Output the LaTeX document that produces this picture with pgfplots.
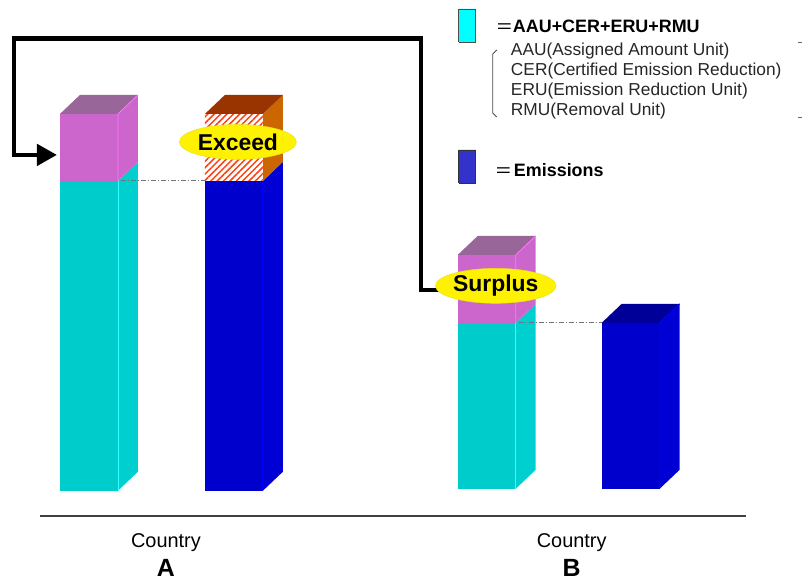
\documentclass[border=0pt]{standalone}
\usepackage{fontspec}
\setmainfont{Liberation Sans}
\usepackage{pgfplots}
\pgfplotsset{compat=1.18}
\usetikzlibrary{patterns.meta,arrows.meta,shapes.geometric}
\definecolor{cyf}{HTML}{00CCCC}
\definecolor{cys}{HTML}{00CFCF}
\definecolor{cyl}{HTML}{33FFFF}
\definecolor{pkf}{HTML}{CC66CC}
\definecolor{pks}{HTML}{CC66CC}
\definecolor{pkt}{HTML}{996699}
\definecolor{pkl}{HTML}{FF77FF}
\definecolor{blf}{HTML}{0000CC}
\definecolor{bls}{HTML}{0000D4}
\definecolor{blt}{HTML}{000099}
\definecolor{bll}{HTML}{0000FF}
\definecolor{ors}{HTML}{CC6600}
\definecolor{brt}{HTML}{993300}
\definecolor{hatch}{HTML}{FF4010}
\definecolor{legc}{HTML}{00FFFF}
\definecolor{legb}{HTML}{3333CC}
\begin{document}
\begin{tikzpicture}
\begin{axis}[x=1bp,y=1bp,xmin=0,xmax=802,ymin=0,ymax=583,hide axis,clip=false]
\path (axis cs:0,0) rectangle (axis cs:802,583);
% ---------- Country A : allowance (cyan) + acquired units (pink)
\addplot[fill=cys,draw=none] coordinates {(118,92)(138,111)(138,421)(118,402)};
\addplot[fill=cyf,draw=none] coordinates {(60,92)(118,92)(118,402)(60,402)};
\addplot[fill=pks,draw=none] coordinates {(118,402)(138,421)(138,488)(118,469)};
\addplot[fill=pkf,draw=none] coordinates {(60,402)(118,402)(118,469)(60,469)};
\addplot[fill=pkt,draw=none] coordinates {(60,469)(118,469)(138,488)(80,488)};
\addplot[cyl,line width=0.8bp] coordinates {(118,92)(118,402)};
\addplot[pkl,line width=0.8bp] coordinates {(118,402)(118,469)(138,488)};
% ---------- Country A : emissions (blue) with excess (hatched)
\addplot[fill=bls,draw=none] coordinates {(263,92)(283,111)(283,421)(263,402)};
\addplot[fill=blf,draw=none] coordinates {(205,92)(263,92)(263,402)(205,402)};
\addplot[fill=ors,draw=none] coordinates {(263,402)(283,421)(283,488)(263,469)};
\addplot[fill=white,draw=none,postaction={pattern color=hatch,pattern={Lines[angle=45,distance=4.5bp,line width=1.5bp]}}] coordinates {(205,402)(263,402)(263,469)(205,469)};
\addplot[fill=brt,draw=none] coordinates {(205,469)(263,469)(283,488)(225,488)};
\addplot[bll,line width=0.8bp] coordinates {(263,92)(263,402)};
% ---------- Country B : allowance (cyan) + surplus (pink)
\addplot[fill=cys,draw=none] coordinates {(516,94)(536,113)(536,279)(516,260)};
\addplot[fill=cyf,draw=none] coordinates {(458,94)(516,94)(516,260)(458,260)};
\addplot[fill=pks,draw=none] coordinates {(516,260)(536,279)(536,347)(516,328)};
\addplot[fill=pkf,draw=none] coordinates {(458,260)(516,260)(516,328)(458,328)};
\addplot[fill=pkt,draw=none] coordinates {(458,328)(516,328)(536,347)(478,347)};
\addplot[cyl,line width=0.8bp] coordinates {(516,94)(516,260)};
\addplot[pkl,line width=0.8bp] coordinates {(516,260)(516,328)(536,347)};
% ---------- Country B : emissions (blue)
\addplot[fill=bls,draw=none] coordinates {(660,94)(680,113)(680,279)(660,260)};
\addplot[fill=blf,draw=none] coordinates {(602,94)(660,94)(660,260)(602,260)};
\addplot[fill=blt,draw=none] coordinates {(602,260)(660,260)(680,279)(622,279)};
\addplot[bll,line width=0.8bp] coordinates {(660,94)(660,260)(680,279)};
% ---------- reference lines
\addplot[black!55,line width=0.9bp,dash pattern=on 5bp off 2bp on 1bp off 2bp] coordinates {(121,402)(205,402)};
\addplot[black!55,line width=0.9bp,dash pattern=on 5bp off 2bp on 1bp off 2bp] coordinates {(519,260)(602,260)};
% ---------- baseline
\addplot[black!75,line width=1.6bp] coordinates {(40,67)(746,67)};
% ---------- transfer arrow
\addplot[black,line width=4.5bp,-{Triangle[length=20bp,width=21bp]}] coordinates {(450,293)(421,293)(421,544.5)(14,544.5)(14,428)(57,428)};
% ---------- callouts
\node[ellipse,fill=yellow,draw=yellow!90!black,line width=0.4bp,minimum width=117bp,minimum height=35bp,inner sep=0pt,font=\fontsize{23}{25}\selectfont\bfseries] at (axis cs:238,441) {Exceed};
\node[ellipse,fill=yellow,draw=yellow!90!black,line width=0.4bp,minimum width=106bp,minimum height=35bp,inner sep=0pt,font=\fontsize{23}{25}\selectfont\bfseries] at (axis cs:496,297) {Surplus};
% ---------- legend
\addplot[fill=legc,draw=black!70,line width=0.8bp] coordinates {(459,541)(476,541)(476,574)(459,574)(459,541)};
\addplot[fill=legb,draw=black!80,line width=0.8bp] coordinates {(459,400)(476,400)(476,433)(459,433)(459,400)};
\node[anchor=base west,inner sep=0pt,font=\fontsize{18}{20}\selectfont] at (axis cs:497,550) {\scalebox{1.45}[1]{=}};
\node[anchor=base west,inner sep=0pt,font=\fontsize{18}{20}\selectfont\bfseries] at (axis cs:513,550) {AAU+CER+ERU+RMU};
\node[anchor=base west,inner sep=0pt,font=\fontsize{18}{20}\selectfont] at (axis cs:496,406) {\scalebox{1.45}[1]{=}};
\node[anchor=base west,inner sep=0pt,font=\fontsize{18}{20}\selectfont\bfseries] at (axis cs:514,406) {Emissions};
\addplot[black!70,line width=0.9bp] coordinates {(497,533)(493,529)(493,470)(497,466)};
\addplot[black!60,line width=0.8bp] coordinates {(798,541)(802,541)};
\addplot[black!60,line width=0.8bp] coordinates {(798,466)(802,466)};
\begin{scope}[every node/.style={anchor=base west,inner sep=0pt,text=black!85,font=\fontsize{17.4}{19}\selectfont}]
\node at (axis cs:511,527) {AAU(Assigned Amount Unit)};
\node at (axis cs:511,507) {CER(Certified Emission Reduction)};
\node at (axis cs:511,487) {ERU(Emission Reduction Unit)};
\node at (axis cs:511,467) {RMU(Removal Unit)};
\end{scope}
% ---------- category labels
\node[anchor=base,inner sep=0pt,font=\fontsize{20}{22}\selectfont] at (axis cs:166,35) {Country};
\node[anchor=base,inner sep=0pt,font=\fontsize{25}{27}\selectfont\bfseries] at (axis cs:166,6) {A};
\node[anchor=base,inner sep=0pt,font=\fontsize{20}{22}\selectfont] at (axis cs:572,35) {Country};
\node[anchor=base,inner sep=0pt,font=\fontsize{25}{27}\selectfont\bfseries] at (axis cs:572,6) {B};
\end{axis}
\end{tikzpicture}
\end{document}
